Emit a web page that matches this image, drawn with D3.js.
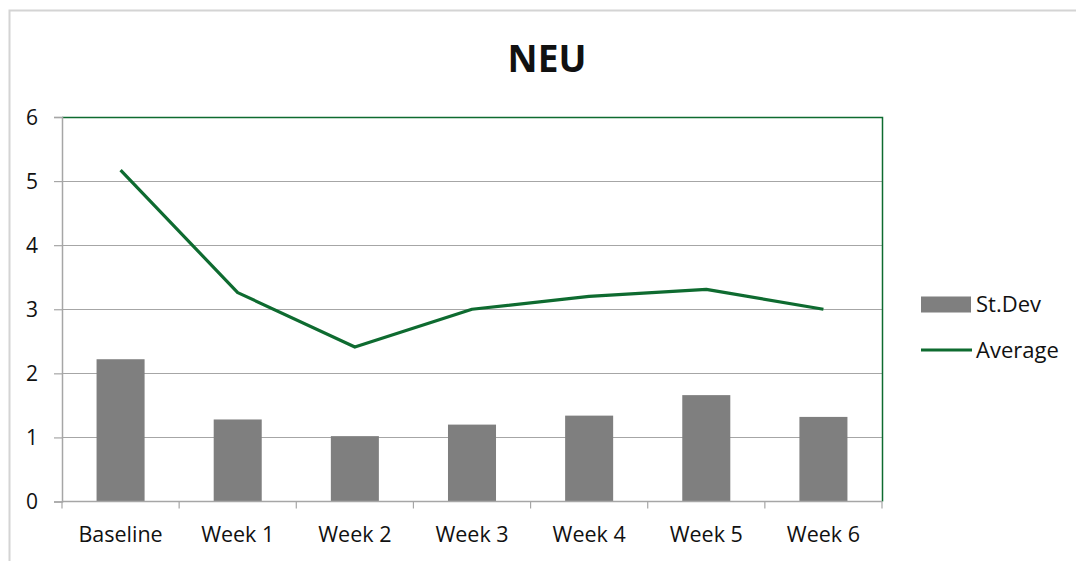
<!DOCTYPE html>
<html><head><meta charset="utf-8">
<script src="https://cdn.jsdelivr.net/npm/d3@7"></script>
<style>body{margin:0;background:#fff}svg{display:block}text{font-family:"Open Sans",sans-serif;fill:#111}</style>
</head><body><svg id="c" width="1076" height="561"></svg>
<script>
const categories = ["Baseline","Week 1","Week 2","Week 3","Week 4","Week 5","Week 6"];
const stDev = [2.22,1.28,1.02,1.20,1.34,1.66,1.32];
const average = [5.17,3.26,2.41,3.00,3.20,3.31,3.00];
const yTicks = [0,1,2,3,4,5,6];
const title = "NEU";
const seriesNames = ["St.Dev","Average"];

const svg = d3.select("#c");
const m = {l:62, r:882, t:117, b:501.5};
const green = "#0e6b30", gridc = "#a6a6a6", barc = "#7f7f7f";
const FONT = "'Open Sans', sans-serif";

// outer chart border
svg.append("path").attr("d","M9.5,561V10.5H1076").attr("fill","none").attr("stroke","#d4d4d4").attr("stroke-width",2);

const x = d3.scaleBand().domain(categories).range([m.l,m.r]).paddingInner(0).paddingOuter(0);
const y = d3.scaleLinear().domain([0,6]).range([m.b,m.t]);

// gridlines
svg.append("g").selectAll("line").data(yTicks.filter(d=>d>0)).join("line")
  .attr("x1",m.l).attr("x2",m.r).attr("y1",d=>Math.round(y(d))+0.5).attr("y2",d=>Math.round(y(d))+0.5)
  .attr("stroke",gridc).attr("stroke-width",1.2);

// plot border (green, top & right)
svg.append("path").attr("d",`M${m.l},${m.t+0.5}H${m.r+0.5}V${m.b}`)
  .attr("fill","none").attr("stroke",green).attr("stroke-width",1.5);

// bars
const bw = x.bandwidth()*0.41;
svg.append("g").selectAll("rect").data(stDev).join("rect")
  .attr("x",(d,i)=>x(categories[i])+x.bandwidth()/2-bw/2)
  .attr("width",bw)
  .attr("y",d=>y(d)).attr("height",d=>m.b-y(d))
  .attr("fill",barc);

// axes
const ya = svg.append("g").attr("transform",`translate(${m.l},0)`)
  .call(d3.axisLeft(y).tickValues(yTicks).tickSize(8).tickPadding(16).tickFormat(d3.format("d")));
ya.select(".domain").attr("stroke",gridc).attr("stroke-width",1.5);
ya.selectAll(".tick line").attr("stroke",gridc).attr("stroke-width",1.2);
ya.selectAll(".tick text").attr("font-size",21).attr("font-family",FONT).attr("fill","#111").attr("dy","0.35em");

const xb = d3.scaleLinear().domain([0,categories.length]).range([m.l,m.r]);
const xa = svg.append("g").attr("transform",`translate(0,${m.b})`);
xa.append("line").attr("x1",m.l).attr("x2",m.r).attr("stroke",gridc).attr("stroke-width",1.5);
xa.selectAll("line.tk").data(d3.range(categories.length+1)).join("line").attr("class","tk")
  .attr("x1",d=>xb(d)).attr("x2",d=>xb(d)).attr("y1",0).attr("y2",7).attr("stroke",gridc).attr("stroke-width",1.2);
xa.selectAll("text").data(categories).join("text")
  .attr("x",d=>x(d)+x.bandwidth()/2).attr("y",40).attr("text-anchor","middle")
  .attr("font-size",21.5).text(d=>d);

// line
const line = d3.line().x((d,i)=>x(categories[i])+x.bandwidth()/2).y(d=>y(d));
svg.append("path").datum(average).attr("d",line).attr("fill","none")
  .attr("stroke",green).attr("stroke-width",3.2).attr("stroke-linejoin","round");

// title
svg.append("text").attr("x",547).attr("y",72).attr("text-anchor","middle")
  .attr("font-size",37).attr("font-weight","bold").text(title);

// legend
const lg = svg.append("g");
lg.append("rect").attr("x",921).attr("y",296.5).attr("width",50).attr("height",16).attr("fill",barc);
lg.append("text").attr("x",976).attr("y",311.5).attr("font-size",22).text(seriesNames[0]);
lg.append("line").attr("x1",921).attr("x2",972).attr("y1",350).attr("y2",350).attr("stroke",green).attr("stroke-width",3.2);
lg.append("text").attr("x",976).attr("y",357.5).attr("font-size",22).text(seriesNames[1]);
</script></body></html>
